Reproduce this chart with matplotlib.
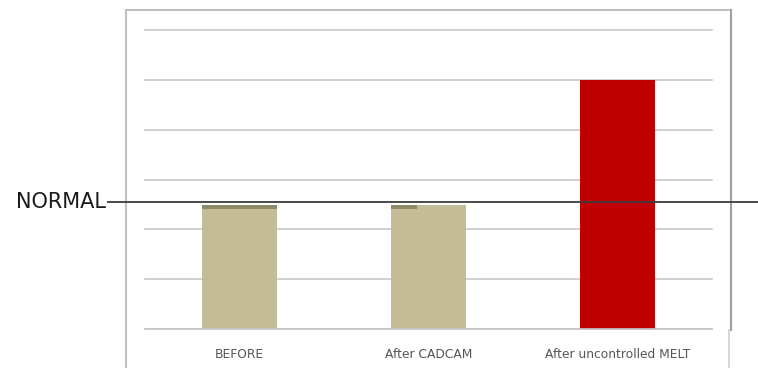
import matplotlib
matplotlib.use("Agg")
import matplotlib.pyplot as plt
from matplotlib.lines import Line2D
from matplotlib.transforms import blended_transform_factory

categories = ["BEFORE", "After CADCAM", "After uncontrolled MELT"]
values = [2.48, 2.48, 5.0]
bar_colors = ["#c4bc96", "#c4bc96", "#c00000"]
normal_level = 2.54
normal_label = "NORMAL"

W, H = 758, 368
fig = plt.figure(figsize=(W / 100, H / 100), dpi=100)
fig.patch.set_facecolor("white")

ax = fig.add_axes([145 / W, 39 / H, (712 - 145) / W, (329 - 30) / H])
x = range(len(categories))
bars = ax.bar(x, values, width=0.4, color=bar_colors, zorder=2)

# darker rim along the top of the tan bars
for i, b in enumerate(bars[:2]):
    frac = 1.0 if i == 0 else 0.35
    ax.bar(b.get_x(), 0.08, width=b.get_width() * frac, bottom=values[i] - 0.08,
           align="edge", color="#8e8a68", zorder=3)

ax.set_xlim(-0.5, len(categories) - 0.5)
ax.set_ylim(0, 6)
ax.set_yticks(range(0, 7))
ax.yaxis.grid(True, color="#c8c8c8", linewidth=1.2, zorder=0)
for gl in ax.get_ygridlines():
    gl.set_clip_on(False)
ax.set_axisbelow(True)
ax.tick_params(axis="y", left=False, labelleft=False)
ax.tick_params(axis="x", bottom=False, colors="#555555", labelsize=8.8, pad=10)
ax.set_xticks(list(x))
ax.set_xticklabels(categories)
for s in ["top", "right", "left"]:
    ax.spines[s].set_visible(False)
ax.spines["bottom"].set_color("#c8c8c8")
ax.spines["bottom"].set_linewidth(1.2)

# chart frame
frame_c = "#c0c0c0"
fig.add_artist(Line2D([126 / W, 731 / W], [1 - 10 / H, 1 - 10 / H], transform=fig.transFigure, color=frame_c, lw=1.5))
fig.add_artist(Line2D([126 / W, 126 / W], [0, 1 - 10 / H], transform=fig.transFigure, color=frame_c, lw=1.5))
fig.add_artist(Line2D([731 / W, 731 / W], [38 / H, 1 - 10 / H], transform=fig.transFigure, color="#a0a0a0", lw=1.5))
fig.add_artist(Line2D([729 / W, 729 / W], [0, 38 / H], transform=fig.transFigure, color="#d0d0d0", lw=1.2))

# normal reference line spanning beyond the plot area
tr = blended_transform_factory(fig.transFigure, ax.transData)
fig.add_artist(Line2D([108 / W, 1.0], [normal_level, normal_level], transform=tr, color="#3c3c3c", lw=1.3, zorder=5))
fig.text(106 / W, normal_level, normal_label, transform=tr, ha="right", va="center",
         fontsize=15, color="#1a1a1a")

fig.savefig("out.png", dpi=100)
